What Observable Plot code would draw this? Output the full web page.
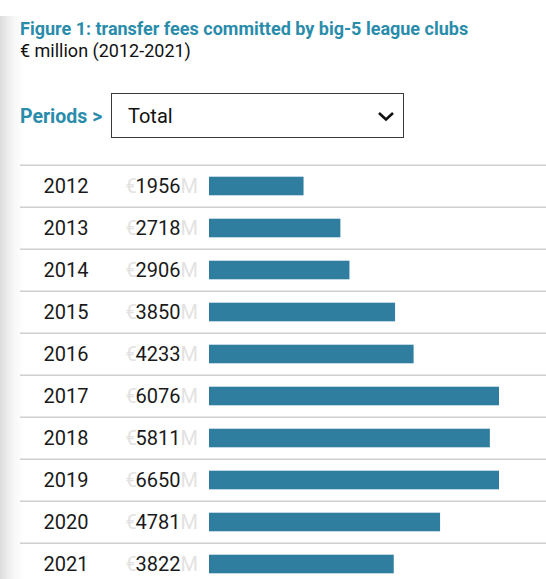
<!DOCTYPE html>
<html>
<head>
<meta charset="utf-8">
<script src="https://cdn.jsdelivr.net/npm/d3@7"></script>
<script src="https://cdn.jsdelivr.net/npm/@observablehq/plot@0.6"></script>
<style>
  html, body { margin: 0; padding: 0; background: #fff; }
  body { width: 546px; height: 579px; position: relative; overflow: hidden; font-family: Roboto, "Noto Sans", sans-serif; }
  .strip { position: absolute; left: 0; top: 16px; width: 24px; height: 600px;
           background: linear-gradient(to right, #dcdcdc 0px, #e9e9e9 6px, #f7f7f7 14px, #ffffff 24px); }
  .title { position: absolute; left: 20px; top: 18px; line-height: 22px; font-size: 18px; font-weight: 700; color: #2a8cab; white-space: nowrap; }
  .subtitle { position: absolute; left: 20px; top: 40px; line-height: 22px; font-size: 18px; color: #111; white-space: nowrap; }
  .periods { position: absolute; left: 20px; top: 106px; line-height: 22px; font-size: 19.5px; font-weight: 700; color: #2a8cab; white-space: nowrap; }
  .select { position: absolute; left: 111px; top: 93px; width: 291px; height: 43px; border: 1.5px solid #3a3a3a; background: #fff; }
  .select .lab { position: absolute; left: 16px; top: 10px; line-height: 24px; font-size: 20px; color: #111; }
  .select svg { position: absolute; left: 264px; top: 17px; }
  #chart { position: absolute; left: 0; top: 161px; }
</style>
</head>
<body>
<div class="strip"></div>
<div class="title">Figure 1: transfer fees committed by big-5 league clubs</div>
<div class="subtitle">€ million (2012-2021)</div>
<div class="periods">Periods &gt;</div>
<div class="select"><div class="lab">Total</div>
  <svg width="20" height="12" viewBox="0 0 20 12"><polyline points="3,2 10,8.5 17,2" fill="none" stroke="#111" stroke-width="2.6"/></svg>
</div>
<div id="chart"></div>
<script>
const years = ["2012", "2013", "2014", "2015", "2016", "2017", "2018", "2019", "2020", "2021"];
const values = [1956, 2718, 2906, 3850, 4233, 6076, 5811, 6650, 4781, 3822];

const data = years.map((y, i) => ({year: y, value: values[i]}));

const step = 42.4;
const marginTop = 2;
const marginLeft = 209;
const marginRight = 47;
const W = 546;
const H = marginTop + step * years.length;
const barH = 19;
const inset = (step - barH) / 2;

const chart = Plot.plot({
  width: W,
  height: H,
  marginTop: marginTop,
  marginBottom: 0,
  marginLeft: marginLeft,
  marginRight: marginRight,
  style: {fontFamily: "Roboto, 'Noto Sans', sans-serif", background: "transparent", overflow: "visible"},
  x: {domain: [0, 6000], clamp: true, axis: null},
  y: {domain: years, padding: 0, axis: null},
  marks: [
    Plot.ruleY(data, {y: "year", dy: -step / 2, stroke: "#cfcfcf", strokeWidth: 1.6,
      insetLeft: -(marginLeft - 20), insetRight: -marginRight}),
    Plot.barX(data, {y: "year", x: "value", fill: "#2f7e9f", insetTop: inset, insetBottom: inset}),
    Plot.text(data, {y: "year", text: "year", frameAnchor: "left", textAnchor: "start",
      dx: 43 - marginLeft, fontSize: 20, fill: "#1a1a1a", dy: 0}),
    Plot.text(data, {y: "year", text: d => "€", frameAnchor: "left", textAnchor: "start",
      dx: 125 - marginLeft, fontSize: 20, fill: "#e2e2e2", dy: 0}),
    Plot.text(data, {y: "year", text: d => String(d.value), frameAnchor: "left", textAnchor: "start",
      dx: 135 - marginLeft, fontSize: 20, fill: "#1a1a1a", dy: 0}),
    Plot.text(data, {y: "year", text: d => "M", frameAnchor: "left", textAnchor: "start",
      dx: 180 - marginLeft, fontSize: 20, fill: "#e2e2e2", dy: 0})
  ]
});
document.getElementById("chart").appendChild(chart);
</script>
</body>
</html>
